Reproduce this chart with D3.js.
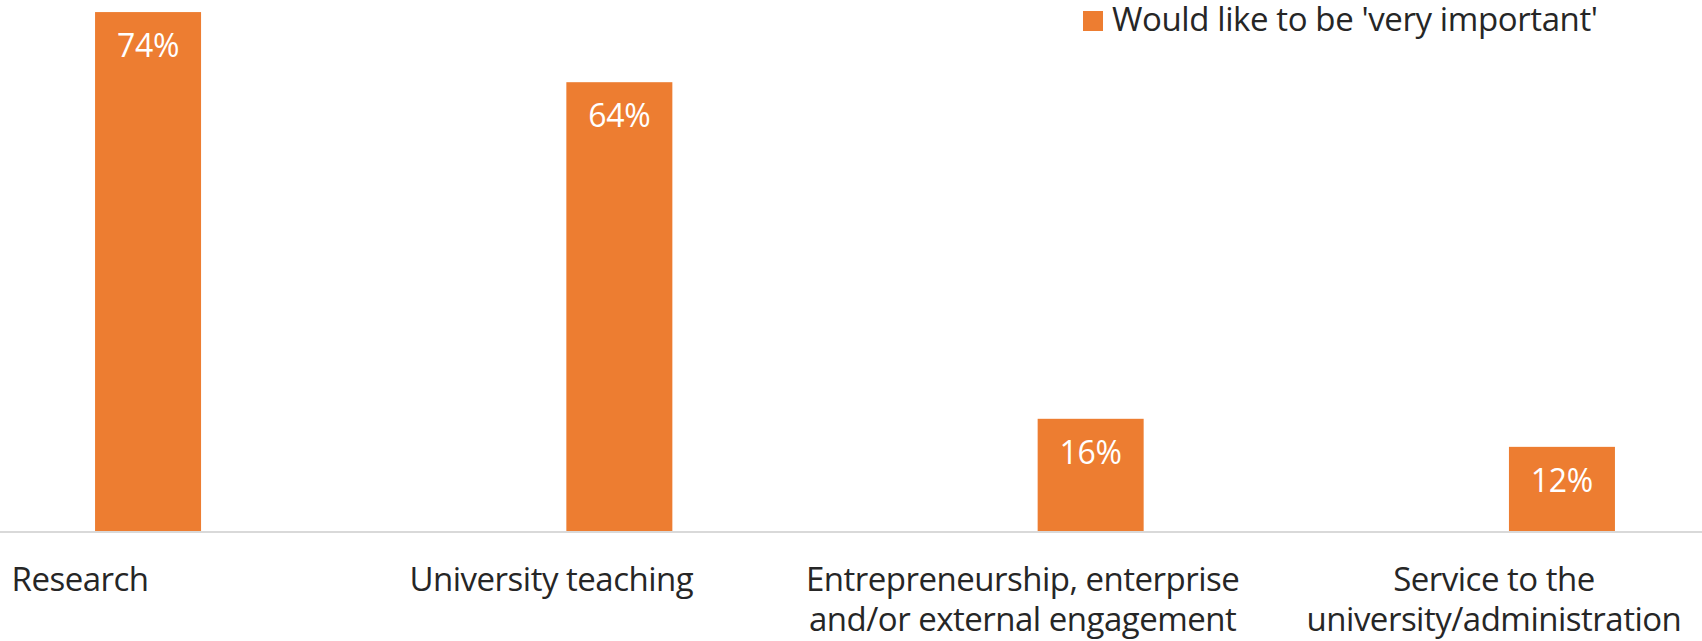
<!DOCTYPE html>
<html>
<head>
<meta charset="utf-8">
<script src="https://cdn.jsdelivr.net/npm/d3@7"></script>
<style>
  html, body { margin: 0; padding: 0; background: #fff; }
  svg { display: block; }
  text { font-family: "Open Sans", sans-serif; }
</style>
</head>
<body>
<svg id="chart" width="1702" height="641"></svg>
<script>
const categories = ["Research", "University teaching", "Entrepreneurship, enterprise|and/or external engagement", "Service to the|university/administration"];
const values = [74, 64, 16, 12];
const seriesName = "Would like to be 'very important'";
const yDomain = [0, 80];

const W = 1702, H = 641;
const baseline = 531;
const svg = d3.select("#chart");

const x = d3.scaleBand().domain(categories).range([-155.6, 1729.6]);
const y = d3.scaleLinear().domain(yDomain).range([baseline, -30]);
const barW = 106, barOffset = 68;
const color = "#ED7D31";

const data = categories.map((c, i) => ({ c, v: values[i] }));
const cx = d => x(d.c) + x.bandwidth() / 2;

svg.selectAll("rect.bar").data(data).enter().append("rect")
  .attr("class", "bar")
  .attr("x", d => cx(d) + barOffset - barW / 2)
  .attr("y", d => y(d.v))
  .attr("width", barW)
  .attr("height", d => y(0) - y(d.v))
  .attr("fill", color);

svg.append("line")
  .attr("x1", 0).attr("x2", W)
  .attr("y1", y(0) + 1).attr("y2", y(0) + 1)
  .attr("stroke", "#d9d9d9").attr("stroke-width", 2);

svg.selectAll("text.val").data(data).enter().append("text")
  .attr("class", "val")
  .attr("x", d => cx(d) + barOffset)
  .attr("y", d => y(d.v) + 45)
  .attr("text-anchor", "middle")
  .attr("fill", "#fff")
  .attr("font-size", 32)
  .attr("letter-spacing", -0.3)
  .text(d => d.v + "%");

const lab = svg.selectAll("text.cat").data(data).enter().append("text")
  .attr("class", "cat")
  .attr("text-anchor", "middle")
  .attr("fill", "#262626")
  .attr("font-size", 33)
  .attr("letter-spacing", -0.5);
lab.each(function(d) {
  const lines = d.c.split("|");
  d3.select(this).selectAll("tspan").data(lines).enter().append("tspan")
    .attr("x", cx(d))
    .attr("y", (l, i) => 591 + i * 40)
    .text(l => l);
});

const lg = svg.append("g").attr("transform", "translate(1083,11)");
lg.append("rect").attr("width", 20).attr("height", 20).attr("fill", color);
lg.append("text").attr("x", 29).attr("y", 20).attr("fill", "#262626")
  .attr("font-size", 33).attr("letter-spacing", -0.4).text(seriesName);
</script>
</body>
</html>
